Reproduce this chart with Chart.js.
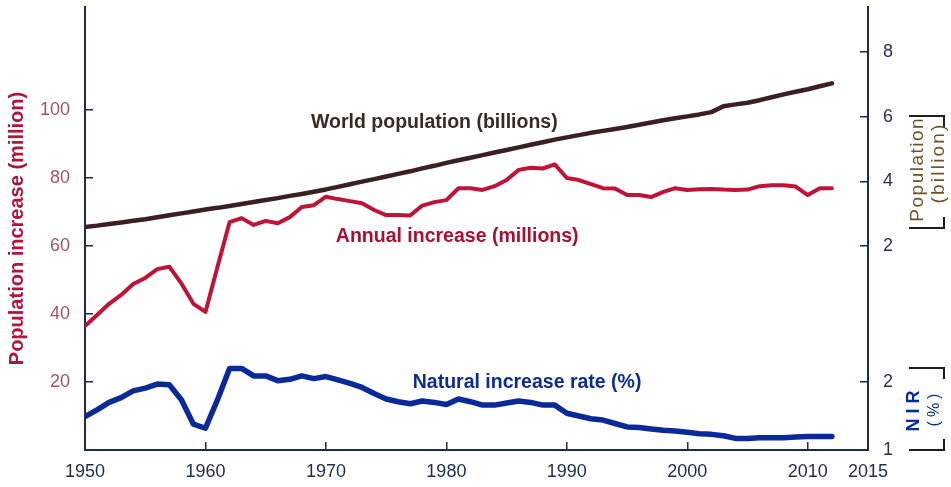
<!DOCTYPE html>
<html>
<head>
<meta charset="utf-8">
<script src="https://cdn.jsdelivr.net/npm/chart.js@4.4.0/dist/chart.umd.min.js"></script>
<style>
  html, body { margin: 0; padding: 0; background: #fff; }
</style>
</head>
<body>
<canvas id="chart" width="951" height="487"></canvas>
<script>
(function () {
	"use strict";

	// data
	var years = [
		1950, 1951, 1952, 1953, 1954, 1955, 1956, 1957, 1958, 1959,
		1960, 1961, 1962, 1963, 1964, 1965, 1966, 1967, 1968, 1969,
		1970, 1971, 1972, 1973, 1974, 1975, 1976, 1977, 1978, 1979,
		1980, 1981, 1982, 1983, 1984, 1985, 1986, 1987, 1988, 1989,
		1990, 1991, 1992, 1993, 1994, 1995, 1996, 1997, 1998, 1999,
		2000, 2001, 2002, 2003, 2004, 2005, 2006, 2007, 2008, 2009,
		2010, 2011, 2012,
	];
	// world population, billions
	var worldPop = [
		2.59, 2.63, 2.68, 2.73, 2.78, 2.83, 2.89, 2.95, 3.01, 3.07,
		3.13, 3.18, 3.24, 3.30, 3.36, 3.42, 3.48, 3.55, 3.61, 3.68,
		3.75, 3.83, 3.91, 3.99, 4.07, 4.15, 4.23, 4.31, 4.40, 4.48,
		4.57, 4.65, 4.73, 4.81, 4.89, 4.97, 5.05, 5.13, 5.21, 5.29,
		5.36, 5.43, 5.50, 5.56, 5.62, 5.68, 5.75, 5.82, 5.89, 5.95,
		6.01, 6.07, 6.14, 6.32, 6.38, 6.43, 6.51, 6.60, 6.69, 6.77,
		6.85, 6.94, 7.03,
	];
	// annual increase, millions
	var annualInc = [
		36.5, 39.7, 43.0, 45.6, 48.8, 50.6, 53.2, 53.9, 49.0, 43.0,
		40.6, 53.9, 67.0, 68.2, 66.2, 67.4, 66.7, 68.5, 71.5, 72.0,
		74.5, 73.8, 73.2, 72.6, 70.6, 69.1, 69.1, 69.0, 71.9, 72.9,
		73.5, 77.0, 77.0, 76.5, 77.6, 79.4, 82.4, 83.0, 82.8, 84.0,
		80.0, 79.4, 78.2, 77.0, 76.9, 75.0, 75.0, 74.4, 75.9, 77.0,
		76.5, 76.7, 76.8, 76.6, 76.5, 76.6, 77.6, 77.9, 77.9, 77.5,
		75.0, 77.0, 77.0,
	];
	// natural increase rate, %
	var nirRate = [
		1.49, 1.59, 1.70, 1.77, 1.87, 1.91, 1.97, 1.96, 1.74, 1.38,
		1.32, 1.74, 2.20, 2.20, 2.09, 2.09, 2.02, 2.04, 2.09, 2.05,
		2.08, 2.03, 1.98, 1.92, 1.83, 1.75, 1.71, 1.68, 1.72, 1.70,
		1.67, 1.75, 1.71, 1.66, 1.66, 1.69, 1.72, 1.70, 1.66, 1.66,
		1.54, 1.50, 1.46, 1.44, 1.39, 1.34, 1.33, 1.31, 1.29, 1.28,
		1.26, 1.24, 1.23, 1.21, 1.17, 1.17, 1.18, 1.18, 1.18, 1.19,
		1.20, 1.20, 1.20,
	];

	var xTicks = [1950, 1960, 1970, 1980, 1990, 2000, 2010, 2015];
	var leftTicks = [20, 40, 60, 80, 100];
	var popTicks = [2, 4, 6, 8];
	var nirTicks = [1, 2];

	var axisColor = "#1d2c48";
	var popColor = "#3a2020";
	var incColor = "#c01338";
	var nirColor = "#0b2a9a";
	var fontFamily = "'Liberation Sans', Arial, sans-serif";

	function pairs(vals) {
		return years.map(function (y, i) {
			return { x: y, y: vals[i] };
		});
	}
	function fixTicks(list) {
		return function (scale) {
			scale.ticks = list.map(function (v) {
				return { value: v };
			});
		};
	}
	// fixed axis width, and no extra room reserved for end labels
	function fixWidth(w) {
		return function (s) {
			s.width = w;
			s.paddingTop = 0;
			s.paddingBottom = 0;
		};
	}

	// inline series labels, placed in data units
	var seriesLabels = [
		{ text: "World population (billions)", x: 1979.0, y: 96.2, color: "#3b2a22" },
		{ text: "Annual increase (millions)", x: 1980.9, y: 62.9, color: "#a80f30" },
		{ text: "Natural increase rate (%)", x: 1986.7, y: 19.7, color: "#0c2d8f" },
	];

	var annotate = {
		id: "annotate",
		afterDraw: function (chart) {
			var ctx = chart.ctx;
			var xs = chart.scales.x;
			var ys = chart.scales.y;
			ctx.save();
			ctx.textAlign = "center";
			ctx.textBaseline = "middle";
			ctx.font = "bold 19.5px " + fontFamily;
			seriesLabels.forEach(function (l) {
				ctx.fillStyle = l.color;
				ctx.fillText(l.text, xs.getPixelForValue(l.x), ys.getPixelForValue(l.y));
			});

			// right-hand axis titles with brackets
			var r = chart.scales.yPop.left;
			function bracket(top, bottom, color) {
				ctx.strokeStyle = color;
				ctx.lineWidth = 2;
				ctx.beginPath();
				ctx.moveTo(r + 41, top);
				ctx.lineTo(r + 76, top);
				ctx.lineTo(r + 76, top + 11);
				ctx.moveTo(r + 41, bottom);
				ctx.lineTo(r + 76, bottom);
				ctx.lineTo(r + 76, bottom - 11);
				ctx.stroke();
			}
			function vtext(txt, x, y, font, color, spacing) {
				ctx.save();
				ctx.translate(x, y);
				ctx.rotate(-Math.PI / 2);
				ctx.font = font;
				ctx.letterSpacing = spacing + "px";
				ctx.fillStyle = color;
				ctx.fillText(txt, spacing / 2, 0);
				ctx.restore();
			}
			bracket(116, 228, "#1d1d2a");
			vtext("Population", r + 50, 170, "19px " + fontFamily, "#6b5428", 1.5);
			vtext("(billion)", r + 71, 164, "19px " + fontFamily, "#6b5428", 2.2);
			bracket(368, 450, "#1d1d2a");
			vtext("NIR", r + 46, 411, "bold 18px " + fontFamily, nirColor, 5);
			vtext("(%)", r + 67, 410, "16px " + fontFamily, nirColor, 4);
			ctx.restore();
		},
	};

	var tickFont = { size: 18 };
	var ctx = document.getElementById("chart").getContext("2d");
	Chart.defaults.font.family = fontFamily;

	var myChart = new Chart(ctx, {
		type: "line",
		data: {
			datasets: [
				{
					label: "World population (billions)",
					data: pairs(worldPop),
					yAxisID: "yPop",
					borderColor: popColor,
					borderWidth: 4.5,
				},
				{
					label: "Annual increase (millions)",
					data: pairs(annualInc),
					yAxisID: "y",
					borderColor: incColor,
					borderWidth: 4,
				},
				{
					label: "Natural increase rate (%)",
					data: pairs(nirRate),
					yAxisID: "yNir",
					borderColor: nirColor,
					borderWidth: 5.5,
				},
			],
		},
		options: {
			responsive: false,
			animation: false,
			devicePixelRatio: 1,
			layout: { padding: { top: 7 } },
			elements: {
				point: { radius: 0 },
				line: { tension: 0, borderJoinStyle: "round", borderCapStyle: "round" },
			},
			plugins: {
				legend: { display: false },
				tooltip: { enabled: false },
			},
			scales: {
				x: {
					type: "linear",
					position: "bottom",
					min: 1950,
					max: 2015,
					afterBuildTicks: fixTicks(xTicks),
					afterFit: function (s) { s.height = 37; },
					ticks: {
						color: axisColor,
						font: tickFont,
						padding: 19,
						callback: function (v) { return String(v); },
					},
					grid: { drawOnChartArea: false, tickLength: -8, color: axisColor, lineWidth: 1.5 },
					border: { color: axisColor, width: 2 },
				},
				y: {
					position: "left",
					min: 0,
					max: 130.3,
					afterBuildTicks: fixTicks(leftTicks),
					afterFit: fixWidth(85),
					ticks: { color: "#a3545c", font: tickFont, padding: 23 },
					grid: { drawOnChartArea: false, tickLength: -8, color: axisColor, lineWidth: 1.5 },
					border: { color: axisColor, width: 2 },
					title: {
						display: true,
						text: "Population increase (million)",
						color: "#b0163c",
						font: { size: 20, weight: "bold" },
						padding: { top: 5, bottom: 0 },
					},
				},
				yPop: {
					position: "right",
					stack: "right",
					stackWeight: 293,
					min: 0.33,
					max: 9.392,
					afterBuildTicks: fixTicks(popTicks),
					afterFit: fixWidth(83),
					ticks: { color: "#2a3450", font: tickFont, padding: 23 },
					grid: { drawOnChartArea: false, tickLength: -8, color: axisColor, lineWidth: 1.5 },
					border: { color: axisColor, width: 2 },
				},
				yNir: {
					position: "right",
					stack: "right",
					stackWeight: 150,
					min: 1,
					max: 3.206,
					afterBuildTicks: fixTicks(nirTicks),
					afterFit: fixWidth(83),
					ticks: { color: "#2a3450", font: tickFont, padding: 23 },
					grid: { drawOnChartArea: false, tickLength: -8, color: axisColor, lineWidth: 1.5 },
					border: { color: axisColor, width: 2 },
				},
			},
		},
		plugins: [annotate],
	});
})();
</script>
</body>
</html>
